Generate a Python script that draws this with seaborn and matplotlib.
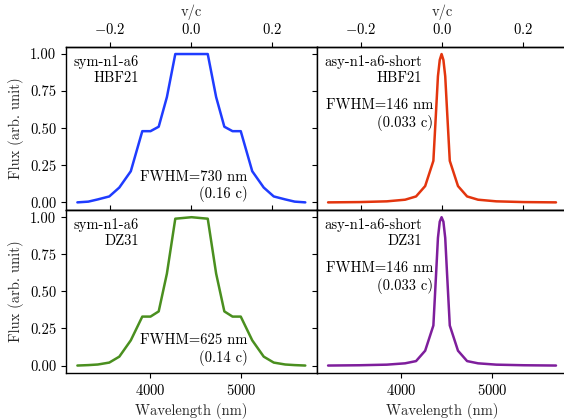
import numpy as np
import pandas as pd
import matplotlib
matplotlib.use('Agg')
import matplotlib.pyplot as plt
import seaborn as sns

# ── DATA ──────────────────────────────────────────────────────
lam0 = 4446.0  # rest wavelength used for the v/c axis (nm)

# symmetric line profiles
wl_sym = [3200, 3320, 3424, 3550, 3660, 3786, 3912, 4002, 4092, 4182, 4274, 4364,
          4452, 4540, 4630, 4722, 4812, 4902, 4992, 5118, 5244, 5354, 5480, 5584, 5700]
flux_sym_hbf = [0.0, 0.005, 0.02, 0.04, 0.10, 0.21, 0.48, 0.48, 0.51, 0.71, 1.0, 1.0,
                1.0, 1.0, 1.0, 0.71, 0.51, 0.48, 0.48, 0.21, 0.10, 0.04, 0.02, 0.005, 0.0]
flux_sym_dz = [0.0, 0.003, 0.007, 0.02, 0.06, 0.17, 0.33, 0.33, 0.365, 0.62, 0.99, 0.995,
               1.0, 0.995, 0.99, 0.62, 0.365, 0.33, 0.33, 0.17, 0.06, 0.02, 0.007, 0.003, 0.0]

# asymmetric "short" profiles
wl_asy = [3200, 3545, 3845, 4045, 4165, 4265, 4355, 4385, 4405, 4425, 4445,
          4465, 4485, 4505, 4535, 4625, 4725, 4845, 5045, 5345, 5700]
flux_asy_hbf = [0.0, 0.002, 0.007, 0.018, 0.04, 0.11, 0.28, 0.62, 0.85, 0.96, 1.0,
                0.96, 0.85, 0.62, 0.28, 0.11, 0.04, 0.018, 0.007, 0.002, 0.0]
flux_asy_dz = [0.0, 0.002, 0.006, 0.015, 0.03, 0.10, 0.27, 0.62, 0.86, 0.97, 1.0,
               0.97, 0.86, 0.62, 0.27, 0.10, 0.03, 0.015, 0.006, 0.002, 0.0]

model_names = ['sym-n1-a6', 'asy-n1-a6-short']
lib_names = ['HBF21', 'DZ31']
fwhm_text = [['FWHM=730 nm\n(0.16 c)', 'FWHM=146 nm\n(0.033 c)'],
             ['FWHM=625 nm\n(0.14 c)', 'FWHM=146 nm\n(0.033 c)']]
colors = [['#1f3cff', '#e3350e'], ['#4a8f1f', '#7e1e9c']]

panels = [[(wl_sym, flux_sym_hbf), (wl_asy, flux_asy_hbf)],
          [(wl_sym, flux_sym_dz), (wl_asy, flux_asy_dz)]]

# ── STYLE ─────────────────────────────────────────────────────
sns.set_theme(style='ticks')
plt.rcParams['font.family'] = ['cmr10', 'DejaVu Serif']
plt.rcParams['mathtext.fontset'] = 'cm'
plt.rcParams['axes.formatter.use_mathtext'] = True
plt.rcParams['font.size'] = 10.5
plt.rcParams['axes.labelsize'] = 10.5
plt.rcParams['xtick.labelsize'] = 10.5
plt.rcParams['ytick.labelsize'] = 10.5
plt.rcParams['xtick.major.size'] = 3.5
plt.rcParams['ytick.major.size'] = 3.5
plt.rcParams['xtick.major.width'] = 0.8
plt.rcParams['ytick.major.width'] = 0.8
plt.rcParams['xtick.major.pad'] = 3.5
plt.rcParams['ytick.major.pad'] = 3.5
plt.rcParams['axes.labelpad'] = 4
plt.rcParams['axes.edgecolor'] = 'black'
plt.rcParams['axes.linewidth'] = 1.0
plt.rcParams['xtick.color'] = 'black'
plt.rcParams['ytick.color'] = 'black'
plt.rcParams['text.color'] = 'black'

fig, axes = plt.subplots(2, 2, figsize=(5.64, 4.2), dpi=100, sharex=True, sharey=True)
fig.subplots_adjust(left=0.117, right=1.006, top=0.889, bottom=0.112,
                    wspace=0, hspace=0)

to_v = lambda x: x / lam0 - 1
to_wl = lambda v: (v + 1) * lam0

for i in range(2):
    for j in range(2):
        ax = axes[i, j]
        wl, fl = panels[i][j]
        df = pd.DataFrame({'wl': wl, 'flux': fl})
        sns.lineplot(data=df, x='wl', y='flux', ax=ax, color=colors[i][j],
                     lw=1.8, sort=False, estimator=None)
        ax.set_xlabel('')
        ax.set_ylabel('')
        ax.set_xlim(3075, 5825)
        ax.set_ylim(-0.05, 1.05)
        ax.set_yticks([0, 0.25, 0.5, 0.75, 1.0])
        ax.yaxis.set_major_formatter(matplotlib.ticker.FormatStrFormatter('%.2f'))
        ax.set_xticks([4000, 5000])

        ax.text(0.03, 0.95, f'{model_names[j]}\n{lib_names[i]}', transform=ax.transAxes,
                ha='left', va='top', multialignment='right')
        if j == 0:
            ax.text(0.724, 0.045, fwhm_text[i][j], transform=ax.transAxes,
                    ha='right', va='bottom', multialignment='right')
        else:
            ax.text(0.465, 0.485, fwhm_text[i][j], transform=ax.transAxes,
                    ha='right', va='bottom', multialignment='right')

        sec = ax.secondary_xaxis('top', functions=(to_v, to_wl))
        sec.set_xticks([-0.2, 0.0, 0.2])
        if i == 0:
            sec.set_xlabel('v/c', labelpad=4)
            ax.tick_params(axis='x', bottom=False)
        else:
            sec.tick_params(labeltop=False)
            ax.set_xlabel('Wavelength (nm)')
        if j == 0:
            ax.set_ylabel('Flux (arb. unit)')

fig.savefig('out.png', dpi=100)
